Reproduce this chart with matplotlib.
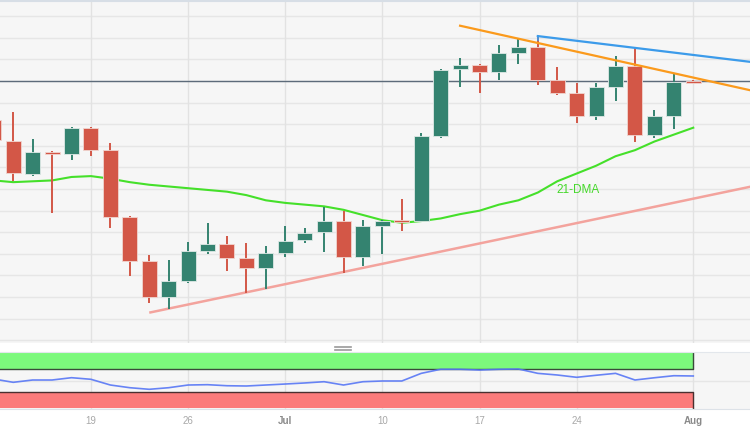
import numpy as np
import matplotlib.pyplot as plt
from matplotlib.patches import Rectangle
from matplotlib.lines import Line2D

# daily candles, Jun 12 - Aug 1
dates = ['Jun 12', 'Jun 13', 'Jun 14', 'Jun 15', 'Jun 16', 'Jun 19', 'Jun 20', 'Jun 21', 'Jun 22', 'Jun 23',
         'Jun 26', 'Jun 27', 'Jun 28', 'Jun 29', 'Jun 30', 'Jul 3', 'Jul 4', 'Jul 5', 'Jul 6', 'Jul 7',
         'Jul 10', 'Jul 11', 'Jul 12', 'Jul 13', 'Jul 14', 'Jul 17', 'Jul 18', 'Jul 19', 'Jul 20', 'Jul 21',
         'Jul 24', 'Jul 25', 'Jul 26', 'Jul 27', 'Jul 28', 'Jul 31', 'Aug 1']
opens = [0.6855, 0.6831, 0.6792, 0.6818, 0.6816, 0.6846, 0.6820, 0.6743, 0.6692, 0.6650,
         0.6669, 0.6703, 0.6711, 0.6695, 0.6684, 0.6701, 0.6716, 0.6725, 0.6738, 0.6696,
         0.6732, 0.6739, 0.6738, 0.6836, 0.6914, 0.6919, 0.6910, 0.6932, 0.6939, 0.6901,
         0.6886, 0.6860, 0.6893, 0.6917, 0.6838, 0.6860, 0.6900]
highs = [0.6861, 0.6864, 0.6833, 0.6819, 0.6847, 0.6847, 0.6828, 0.6744, 0.6699, 0.6693,
         0.6714, 0.6736, 0.6721, 0.6713, 0.6709, 0.6732, 0.6730, 0.6754, 0.6750, 0.6739,
         0.6739, 0.6763, 0.6840, 0.6914, 0.6927, 0.6920, 0.6942, 0.6949, 0.6952, 0.6916,
         0.6898, 0.6898, 0.6929, 0.6938, 0.6866, 0.6909, 0.6901]
lows = [0.6826, 0.6784, 0.6790, 0.6747, 0.6809, 0.6813, 0.6730, 0.6674, 0.6643, 0.6636,
        0.6666, 0.6700, 0.6680, 0.6655, 0.6659, 0.6696, 0.6713, 0.6702, 0.6678, 0.6686,
        0.6700, 0.6726, 0.6737, 0.6834, 0.6893, 0.6886, 0.6901, 0.6920, 0.6895, 0.6884,
        0.6851, 0.6855, 0.6877, 0.6829, 0.6834, 0.6844, 0.6898]
closes = [0.6832, 0.6794, 0.6818, 0.6815, 0.6846, 0.6820, 0.6743, 0.6692, 0.6650, 0.6669,
          0.6703, 0.6711, 0.6695, 0.6684, 0.6701, 0.6715, 0.6724, 0.6738, 0.6696, 0.6732,
          0.6738, 0.6737, 0.6836, 0.6913, 0.6919, 0.6910, 0.6932, 0.6939, 0.6901, 0.6886,
          0.6860, 0.6893, 0.6917, 0.6838, 0.6860, 0.6899, 0.6898]
dma21 = [0.6785, 0.6783, 0.6784, 0.6785, 0.6789, 0.6790, 0.6787, 0.6783, 0.6780, 0.6778,
         0.6776, 0.6774, 0.6772, 0.6768, 0.6762, 0.6759, 0.6757, 0.6755, 0.6751, 0.6745,
         0.6739, 0.6736, 0.6738, 0.6741, 0.6746, 0.6750, 0.6757, 0.6762, 0.6771, 0.6784,
         0.6793, 0.6802, 0.6813, 0.6820, 0.6830, 0.6838, 0.6846]
rsi = [52.7, 46.7, 50.9, 50.9, 55.1, 52.2, 41.8, 36.9, 34.0, 36.9,
       41.8, 42.4, 40.5, 40.0, 41.8, 43.6, 45.5, 47.8, 41.8, 47.8,
       49.1, 49.1, 63.0, 70.4, 70.4, 69.0, 70.4, 70.9, 63.0, 60.0,
       55.8, 59.5, 63.0, 50.9, 55.0, 58.7, 58.2]
last_price = 0.6900

# trend lines: (day index, price) end points, extended past the last candle
res_orange_x, res_orange_y = [24, 39], [0.6964, 0.6889]
res_blue_x, res_blue_y = [28, 39], [0.6952, 0.6922]
sup_pink_x, sup_pink_y = [8, 39], [0.6632, 0.6778]

tick_dates = ['Jun 19', 'Jun 26', 'Jul 3', 'Jul 10', 'Jul 17', 'Jul 24', 'Aug 1']
tick_labels = ['19', '26', 'Jul', '10', '17', '24', 'Aug']

GREEN = '#348370'
RED = '#d35747'
BG = '#f6f6f6'
GRID = '#e6e6e6'

x = np.arange(len(dates))
tick_pos = [dates.index(d) for d in tick_dates]
xlim = (0.32, 38.92)

fig = plt.figure(figsize=(7.5, 4.3), dpi=100, facecolor='white')
ax = fig.add_axes([0, 87 / 430, 1, 342 / 430], facecolor=BG)
osc = fig.add_axes([0, 21 / 430, 1, 57 / 430], facecolor=BG)

# ---- price panel
for k in range(-12, 4):
    ax.axhline(0.69 + k * 0.0025, color=GRID, lw=1, zorder=0)
for p in tick_pos:
    ax.axvline(p, color='#e2e2e2', lw=1, zorder=0)

ax.axhline(last_price, color='#5d6b7a', lw=1, zorder=1)

ax.plot(sup_pink_x, sup_pink_y, color='#f3a39d', lw=1.8, zorder=2, solid_capstyle='butt')
ax.plot(x, dma21, color='#45e02a', lw=1.5, zorder=2)

w = 0.77
for i in range(len(dates)):
    o, h, l, c = opens[i], highs[i], lows[i], closes[i]
    col = GREEN if c >= o else RED
    ax.plot([i, i], [l, h], color=col, lw=1.4, zorder=3, solid_capstyle='butt')
    bottom = min(o, c)
    height = max(abs(c - o), 0.00012)
    ax.add_patch(Rectangle((i - w / 2, bottom), w, height, facecolor=col,
                           edgecolor='#dfe9e6' if col == GREEN else '#f0d5d0', lw=0.6, zorder=4))

ax.plot(res_orange_x, res_orange_y, color='#fb9a1c', lw=1.6, zorder=5)
ax.plot(res_blue_x, res_blue_y, color='#3c9bea', lw=1.6, zorder=5)
ax.plot([res_blue_x[0], res_blue_x[0]], [res_blue_y[0], res_blue_y[0] - 0.0004], color='#3c9bea', lw=1.2, zorder=5)

ax.text(30.07, 0.6774, '21-DMA', color='#45d82a', fontsize=8.5, ha='center', va='center',
        family=['Liberation Sans', 'DejaVu Sans'], zorder=6)

ax.set_xlim(*xlim)
ax.set_ylim(0.65969, 0.69926)
ax.set_xticks([])
ax.set_yticks([])
for s in ['left', 'right', 'bottom']:
    ax.spines[s].set_visible(False)
ax.spines['top'].set_color('#d7dee6')
ax.spines['top'].set_linewidth(1.5)

# ---- oscillator panel
osc.axhline(50, color=GRID, lw=1, zorder=0)
for p in tick_pos:
    osc.axvline(p, color='#e2e2e2', lw=1, zorder=0)
last = tick_pos[-1]
osc.fill_between([xlim[0], last], 70, 100, color='#7cf97c', lw=0, zorder=1)
osc.fill_between([xlim[0], last], 0, 30, color='#fb7b7b', lw=0, zorder=1)
osc.plot([xlim[0], last, last], [70, 70, 100], color='#3a4a3a', lw=1, zorder=2)
osc.plot([xlim[0], last, last], [30, 30, 0], color='#4a3030', lw=1, zorder=2)
osc.plot(x, rsi, color='#5877f5', lw=1.2, alpha=0.9, zorder=3)

osc.set_xlim(*xlim)
osc.set_ylim(-1.8, 101.8)
osc.set_yticks([])
osc.set_xticks(tick_pos)
osc.set_xticklabels(tick_labels, family=['Liberation Sans', 'DejaVu Sans'], fontsize=7)
osc.tick_params(axis='x', length=0, pad=5)
for lab in osc.get_xticklabels():
    if lab.get_text() in ('Jul', 'Aug'):
        lab.set_fontweight('bold')
        lab.set_color('#8a8a8a')
    else:
        lab.set_color('#a8a8a8')
for s in ['left', 'right']:
    osc.spines[s].set_visible(False)
osc.spines['top'].set_color('#e3e7ec')
osc.spines['bottom'].set_color('#dde2e8')

# splitter handle
fig.add_artist(Line2D([335 / 750, 351 / 750], [1 - 347 / 430] * 2, color='#9a9a9a', lw=1.2))
fig.add_artist(Line2D([335 / 750, 351 / 750], [1 - 349.5 / 430] * 2, color='#9a9a9a', lw=1.2))

fig.savefig('out.png', dpi=100, facecolor='white')
